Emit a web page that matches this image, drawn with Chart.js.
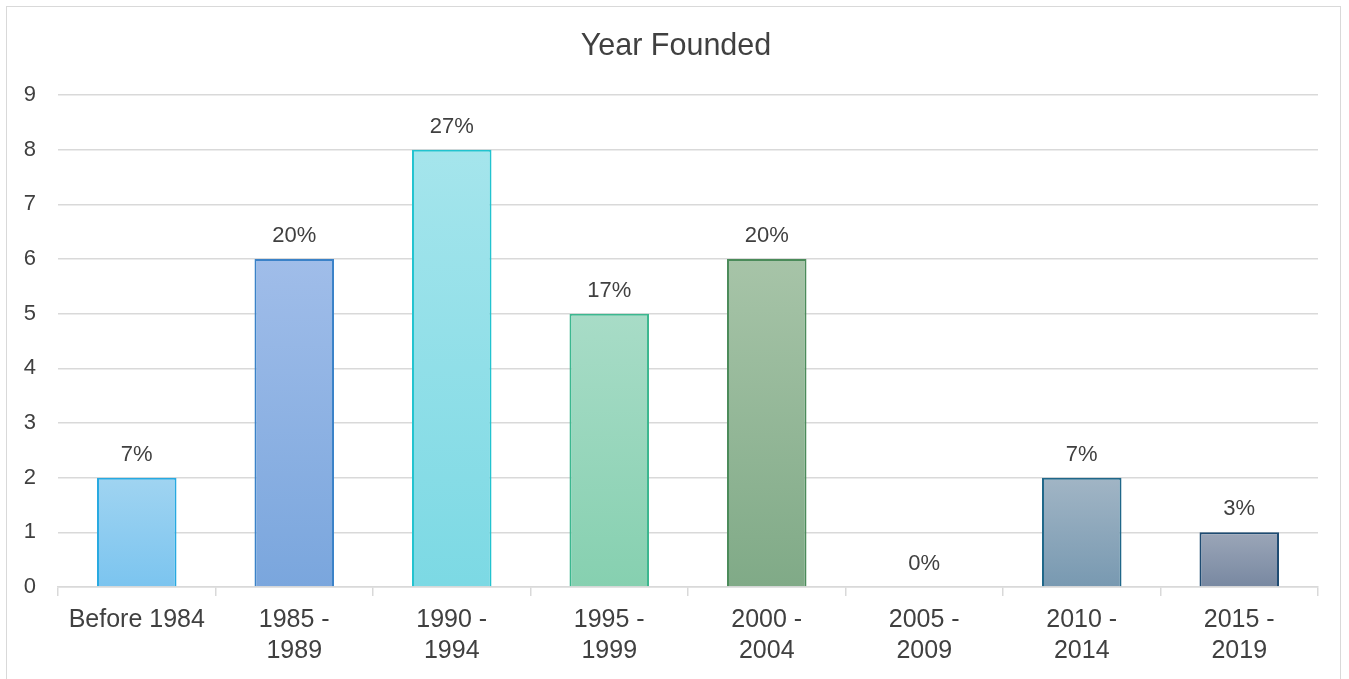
<!DOCTYPE html>
<html>
<head>
<meta charset="utf-8">
<script src="https://cdn.jsdelivr.net/npm/chart.js@4/dist/chart.umd.min.js"></script>
<style>
  html, body { margin: 0; padding: 0; background: #ffffff; overflow: hidden; }
  #frame { position: absolute; left: 6px; top: 6px; width: 1335px; height: 720px; border: 1.5px solid #d9d9d9; box-sizing: border-box; }
  #wrap { position: absolute; left: 0; top: 0; width: 1349px; height: 679px; }
  #title { position: absolute; left: 0; top: 26px; width: 1352px; text-align: center; font-family: 'Liberation Sans', Arial, sans-serif; font-size: 30.5px; line-height: 36.6px; color: #404040; white-space: nowrap; }
</style>
</head>
<body>
<div id="frame"></div>
<div id="wrap"><canvas id="c" width="1349" height="679"></canvas></div>
<div id="title"></div>
<script>
const chartTitle = "Year Founded";
const categories = [["Before 1984"], ["1985 -", "1989"], ["1990 -", "1994"], ["1995 -", "1999"], ["2000 -", "2004"], ["2005 -", "2009"], ["2010 -", "2014"], ["2015 -", "2019"]];
const counts = [2, 6, 8, 5, 6, 0, 2, 1];
const percentLabels = ["7%", "20%", "27%", "17%", "20%", "0%", "7%", "3%"];
const yTicks = [0, 1, 2, 3, 4, 5, 6, 7, 8, 9];
const gradTop = ["#a0d4f1", "#a0bde9", "#a5e5ec", "#a8dcc7", "#a7c4a8", "#a0e0e8", "#a1b5c5", "#9ba6b8"];
const gradBottom = ["#7bc4ef", "#7aa6dd", "#7cd9e4", "#86d0b0", "#80aa87", "#7cd9e4", "#7899b1", "#7888a1"];
const borders = ["#27a9e1", "#3b82c8", "#22c3cf", "#3cb78f", "#4b8b5a", "#22c3cf", "#1f6789", "#1e4b72"];

document.getElementById("title").textContent = chartTitle;

const FONT = "'Liberation Sans', Arial, sans-serif";
const TXT = "#404040";

const pctPlugin = {
  id: "pctLabels",
  afterDatasetsDraw(chart) {
    const ctx = chart.ctx;
    const meta = chart.getDatasetMeta(0);
    ctx.save();
    ctx.font = "22px " + FONT;
    ctx.fillStyle = TXT;
    ctx.textAlign = "center";
    ctx.textBaseline = "middle";
    meta.data.forEach((bar, i) => {
      ctx.fillText(percentLabels[i], bar.x, bar.y - 23);
    });
    ctx.restore();
  }
};

function barGradient(context) {
  const chart = context.chart;
  const i = context.dataIndex;
  const y = chart.scales && chart.scales.y;
  if (!chart.chartArea || !y || y.top === undefined) return gradBottom[i];
  const top = y.getPixelForValue(counts[i]);
  const bottom = y.getPixelForValue(0);
  if (!isFinite(top) || !isFinite(bottom) || top === bottom) return gradBottom[i];
  const g = chart.ctx.createLinearGradient(0, top, 0, bottom);
  g.addColorStop(0, gradTop[i]);
  g.addColorStop(1, gradBottom[i]);
  return g;
}

new Chart(document.getElementById("c"), {
  type: "bar",
  data: {
    labels: categories,
    datasets: [{
      data: counts,
      backgroundColor: barGradient,
      borderColor: borders,
      borderWidth: 2,
      borderSkipped: "bottom",
      categoryPercentage: 1.0,
      barPercentage: 0.505
    }]
  },
  options: {
    responsive: false,
    animation: false,
    layout: { padding: { left: 6, right: 31, top: 95, bottom: 0 } },
    plugins: {
      legend: { display: false },
      tooltip: { enabled: false },
      title: { display: false }
    },
    scales: {
      x: {
        offset: true,
        grid: {
          offset: true,
          drawOnChartArea: false,
          drawTicks: true,
          tickLength: 9,
          color: "#d9d9d9",
          lineWidth: 1.5
        },
        border: { display: true, color: "#d9d9d9", width: 1.5 },
        ticks: {
          color: TXT,
          font: { family: FONT, size: 25, lineHeight: 1.22 },
          padding: 9,
          maxRotation: 0,
          autoSkip: false
        },
        afterFit(scale) { scale.height = 92; }
      },
      y: {
        min: 0,
        max: 9,
        afterBuildTicks(scale) { scale.ticks = yTicks.map(v => ({ value: v })); },
        grid: { color: "#d9d9d9", lineWidth: 1.5, drawTicks: false },
        border: { display: false },
        ticks: {
          color: TXT,
          font: { family: FONT, size: 22 },
          padding: 22
        },
        afterFit(scale) { scale.width = 52; }
      }
    }
  },
  plugins: [pctPlugin]
});
</script>
</body>
</html>
